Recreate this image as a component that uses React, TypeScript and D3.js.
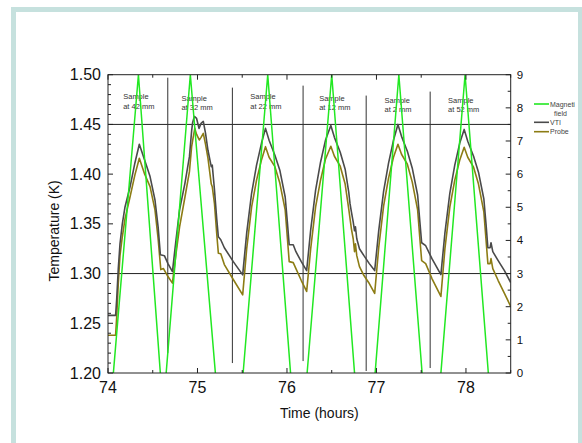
import React from "react";
import { scaleLinear, line } from "d3";

// readings taken off the plot: [time (h), temperature (K)]
const vtiPoints: [number, number][] = [
  [74.0, 1.258], [74.085, 1.258], [74.097, 1.274], [74.115, 1.305], [74.134, 1.33], [74.16, 1.35], [74.19, 1.367],
  [74.246, 1.387], [74.3, 1.411], [74.35, 1.43], [74.41, 1.414], [74.47, 1.3975], [74.525, 1.374], [74.56, 1.347],
  [74.585, 1.319], [74.63, 1.318], [74.67, 1.31], [74.72, 1.302],
  [74.76, 1.334], [74.8, 1.364], [74.86, 1.391], [74.91, 1.4176], [74.935, 1.444], [74.946, 1.452], [74.965, 1.458],
  [74.99, 1.456], [75.017, 1.446], [75.04, 1.451], [75.065, 1.453], [75.09, 1.441], [75.117, 1.424], [75.154, 1.4075],
  [75.165, 1.409], [75.19, 1.384], [75.215, 1.355], [75.233, 1.337], [75.26, 1.334], [75.3, 1.326], [75.4, 1.312],
  [75.505, 1.2987],
  [75.55, 1.341], [75.605, 1.381], [75.66, 1.409], [75.715, 1.431], [75.76, 1.446], [75.8, 1.434], [75.865, 1.419],
  [75.92, 1.404], [75.98, 1.377], [76.005, 1.351], [76.025, 1.329], [76.07, 1.329], [76.1, 1.322], [76.16, 1.312],
  [76.22, 1.303],
  [76.265, 1.344], [76.32, 1.384], [76.375, 1.412], [76.43, 1.434], [76.49, 1.449], [76.53, 1.437], [76.595, 1.422],
  [76.65, 1.405], [76.69, 1.382], [76.705, 1.37], [76.72, 1.362], [76.74, 1.352], [76.755, 1.343], [76.765, 1.347],
  [76.78, 1.335], [76.81, 1.325], [76.86, 1.318], [76.92, 1.31], [76.98, 1.303],
  [77.025, 1.343], [77.08, 1.383], [77.135, 1.411], [77.19, 1.434], [77.24, 1.45], [77.28, 1.438], [77.345, 1.423],
  [77.4, 1.406], [77.46, 1.379], [77.485, 1.352], [77.505, 1.331], [77.55, 1.328], [77.62, 1.315], [77.72, 1.299],
  [77.765, 1.341], [77.82, 1.381], [77.875, 1.409], [77.93, 1.431], [77.98, 1.445], [78.02, 1.433], [78.085, 1.418],
  [78.14, 1.402], [78.2, 1.375], [78.225, 1.349], [78.245, 1.326], [78.27, 1.326], [78.28, 1.331], [78.3, 1.322],
  [78.36, 1.313], [78.43, 1.303], [78.5, 1.291],
];

const probePoints: [number, number][] = [
  [74.0, 1.238], [74.085, 1.238], [74.097, 1.256], [74.115, 1.29], [74.134, 1.318], [74.16, 1.337], [74.19, 1.355],
  [74.246, 1.377], [74.3, 1.399], [74.35, 1.416], [74.41, 1.4], [74.47, 1.3874], [74.525, 1.364], [74.56, 1.335],
  [74.59, 1.304], [74.62, 1.305], [74.67, 1.297], [74.72, 1.2904],
  [74.76, 1.32], [74.8, 1.347], [74.86, 1.377], [74.91, 1.4025], [74.935, 1.428], [74.95, 1.436], [74.97, 1.446],
  [74.99, 1.44], [75.02, 1.4344], [75.04, 1.437], [75.065, 1.441], [75.09, 1.43], [75.117, 1.416], [75.154, 1.39],
  [75.165, 1.3874], [75.19, 1.37], [75.215, 1.34], [75.233, 1.3205], [75.26, 1.32], [75.3, 1.309], [75.4, 1.294],
  [75.505, 1.2786],
  [75.55, 1.325], [75.605, 1.367], [75.66, 1.394], [75.715, 1.4143], [75.76, 1.4276], [75.8, 1.417], [75.865, 1.4075],
  [75.92, 1.391], [75.98, 1.364], [76.005, 1.335], [76.025, 1.312], [76.07, 1.311], [76.1, 1.305], [76.16, 1.293],
  [76.22, 1.282],
  [76.265, 1.325], [76.32, 1.367], [76.375, 1.394], [76.43, 1.415], [76.49, 1.428], [76.53, 1.418], [76.595, 1.408],
  [76.65, 1.39], [76.69, 1.365], [76.705, 1.355], [76.72, 1.345], [76.74, 1.335], [76.755, 1.322], [76.765, 1.33],
  [76.78, 1.318], [76.81, 1.307], [76.86, 1.298], [76.92, 1.29], [76.98, 1.28],
  [77.025, 1.326], [77.08, 1.368], [77.135, 1.396], [77.19, 1.417], [77.24, 1.43], [77.28, 1.42], [77.345, 1.41],
  [77.4, 1.392], [77.46, 1.364], [77.485, 1.335], [77.505, 1.313], [77.55, 1.31], [77.62, 1.295], [77.72, 1.277],
  [77.765, 1.325], [77.82, 1.367], [77.875, 1.394], [77.93, 1.414], [77.98, 1.427], [78.02, 1.417], [78.085, 1.407],
  [78.14, 1.39], [78.2, 1.362], [78.225, 1.333], [78.245, 1.31], [78.27, 1.31], [78.28, 1.315], [78.3, 1.305],
  [78.36, 1.293], [78.43, 1.28], [78.5, 1.267],
];

// magnetic field ramps (right axis, T); NaN = gap between ramps
const fieldTime = [74.06, 74.34, 74.585, NaN, 74.65, 74.92, 75.2, NaN, 75.51, 75.785, 76.04, NaN, 76.225, 76.5, 76.755, NaN,
  76.985, 77.25, 77.51, NaN, 77.72, 77.99, 78.25];
const fieldValue = [0, 9, 0, NaN, 0, 9, 0, NaN, 0, 9, 0, NaN, 0, 9, 0, NaN, 0, 9, 0, NaN, 0, 9, 0];

// sample position markers
const markerTime = [74.668, 75.39, 76.18, 76.885, 77.6];
const markerTop = [1.497, 1.487, 1.489, 1.479, 1.483];
const markerBottom = [1.22, 1.21, 1.212, 1.202, 1.205];

const sampleLabels = ["at 42 mm", "at 32 mm", "at 22 mm", "at 12 mm", "at 2 mm", "at 52 mm"];
const sampleLabelTime = [74.17, 74.82, 75.59, 76.36, 77.09, 77.8];
const sampleLabelTemp = [1.4755, 1.474, 1.4755, 1.474, 1.472, 1.472];

const refLines = [1.45, 1.3];

const legendItems = [
  { name: ["Magneti", "field"], color: "#22e822" },
  { name: ["VTI"], color: "#4a4a4a" },
  { name: ["Probe"], color: "#8c7c14" },
];

const font = "'Liberation Sans', Arial, sans-serif";

const App = () => {
  const left = 108, right = 510.7, top = 74.7, bottom = 373;

  const x = scaleLinear().domain([74, 78.5]).range([left, right]);
  const y = scaleLinear().domain([1.2, 1.5]).range([bottom, top]);
  const yR = scaleLinear().domain([0, 9]).range([bottom, top]);

  const tLine = line<[number, number]>()
    .x((d) => x(d[0]))
    .y((d) => y(d[1]));

  const fLine = line<number>()
    .defined((i) => !isNaN(fieldTime[i]))
    .x((i) => x(fieldTime[i]))
    .y((i) => yR(fieldValue[i]));

  const xMajor = x.ticks(5);
  const xMinor = x.ticks(10).filter((t) => !xMajor.includes(t));
  const yMajor = y.ticks(6);
  const yMinor = y.ticks(30).filter((t) => !yMajor.some((m) => Math.abs(m - t) < 1e-9));
  const rMajor = yR.ticks(9);
  const rMinor = yR.ticks(18).filter((t) => !rMajor.includes(t));

  const axisCol = "#222";

  return (
    <svg width={582} height={443} style={{ position: "absolute", left: 0, top: 0 }} fontFamily={font}>
      <rect x={0} y={0} width={582} height={443} fill="#fff" />
      {/* outer frame */}
      <rect x={13.5} y={9.5} width={567} height={450} fill="none" stroke="#c6e1de" strokeWidth={5} />

      <defs>
        <clipPath id="plotClip">
          <rect x={left} y={top} width={right - left} height={bottom - top} />
        </clipPath>
      </defs>

      {/* reference lines */}
      {refLines.map((v) => (
        <line key={v} x1={left} x2={right} y1={y(v)} y2={y(v)} stroke="#222" strokeWidth={1} />
      ))}
      {markerTime.map((t, i) => (
        <line key={t} x1={x(t)} x2={x(t)} y1={y(markerTop[i])} y2={y(markerBottom[i])} stroke="#333" strokeWidth={1} />
      ))}

      {sampleLabels.map((s, i) => (
        <text key={s} x={x(sampleLabelTime[i])} y={y(sampleLabelTemp[i])} fontSize={7.5} fill="#333">
          <tspan x={x(sampleLabelTime[i])}>Sample</tspan>
          <tspan x={x(sampleLabelTime[i])} dy={9.5}>{s}</tspan>
        </text>
      ))}

      <g clipPath="url(#plotClip)">
        <path d={tLine(probePoints) || ""} fill="none" stroke="#8c7c14" strokeWidth={1.6} strokeLinejoin="round" />
        <path d={tLine(vtiPoints) || ""} fill="none" stroke="#4a4a4a" strokeWidth={1.6} strokeLinejoin="round" />
        <path d={fLine(fieldTime.map((_, i) => i)) || ""} fill="none" stroke="#22e822" strokeWidth={1.5} />
      </g>

      {/* frame */}
      <rect x={left} y={top} width={right - left} height={bottom - top} fill="none" stroke={axisCol} strokeWidth={1} />

      {/* bottom + top ticks */}
      {xMajor.map((t) => (
        <g key={"xm" + t}>
          <line x1={x(t)} x2={x(t)} y1={bottom} y2={bottom - 5} stroke={axisCol} />
          <line x1={x(t)} x2={x(t)} y1={top} y2={top + 5} stroke={axisCol} />
          <text x={x(t)} y={bottom + 20} fontSize={16} textAnchor="middle" fill="#111">{t}</text>
        </g>
      ))}
      {xMinor.map((t) => (
        <g key={"xn" + t}>
          <line x1={x(t)} x2={x(t)} y1={bottom} y2={bottom - 3} stroke={axisCol} />
          <line x1={x(t)} x2={x(t)} y1={top} y2={top + 3} stroke={axisCol} />
        </g>
      ))}

      {/* left axis */}
      {yMajor.map((t) => (
        <g key={"ym" + t}>
          <line x1={left} x2={left + 5} y1={y(t)} y2={y(t)} stroke={axisCol} />
          <text x={left - 7} y={y(t) + 5.5} fontSize={16} textAnchor="end" fill="#111">{t.toFixed(2)}</text>
        </g>
      ))}
      {yMinor.map((t) => (
        <line key={"yn" + t} x1={left} x2={left + 3} y1={y(t)} y2={y(t)} stroke={axisCol} />
      ))}

      {/* right axis */}
      {rMajor.map((t) => (
        <g key={"rm" + t}>
          <line x1={right} x2={right - 5} y1={yR(t)} y2={yR(t)} stroke={axisCol} />
          <text x={right + 6} y={yR(t) + 4} fontSize={11.5} fill="#111">{t}</text>
        </g>
      ))}
      {rMinor.map((t) => (
        <line key={"rn" + t} x1={right} x2={right - 3} y1={yR(t)} y2={yR(t)} stroke={axisCol} />
      ))}

      {/* axis titles */}
      <text x={(left + right) / 2 + 10} y={418} fontSize={14} textAnchor="middle" fill="#111">Time (hours)</text>
      <text transform={`translate(59, ${(top + bottom) / 2 + 7}) rotate(-90)`} fontSize={14} textAnchor="middle" fill="#111">
        Temperature (K)
      </text>

      {/* legend */}
      {legendItems.map((d, i) => {
        const ly = [104, 122.3, 131.7][i];
        return (
          <g key={d.color}>
            <line x1={534} x2={549} y1={ly} y2={ly} stroke={d.color} strokeWidth={1.6} />
            {d.name.map((n, j) => (
              <text key={n} x={550 + j * 4} y={ly + 2.5 + j * 9.3} fontSize={7} fill="#444">{n}</text>
            ))}
          </g>
        );
      })}
    </svg>
  );
};

export default App;
